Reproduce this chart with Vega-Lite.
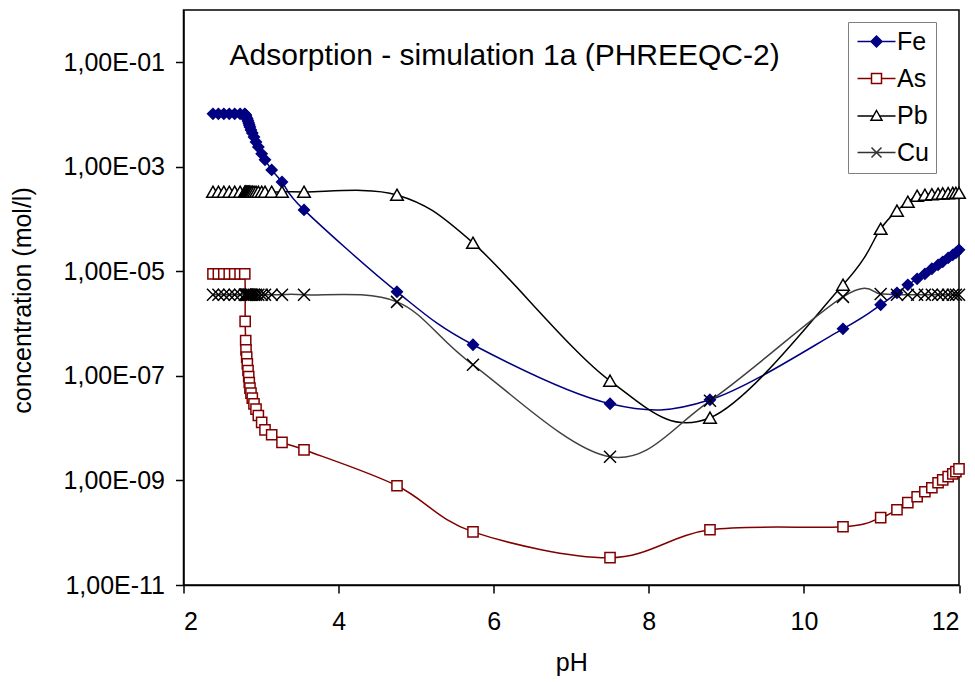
{
  "$schema": "https://vega.github.io/schema/vega-lite/v6.json",
  "width": 775.5,
  "height": 575,
  "autosize": {"type": "none"},
  "padding": {"left": 183.5, "top": 10, "right": 16, "bottom": 97},
  "background": "white",
  "config": {
    "font": "Liberation Sans",
    "view": {"stroke": "black", "strokeWidth": 1.5},
    "axis": {
      "grid": false,
      "domainColor": "black",
      "domainWidth": 1.5,
      "tickColor": "black",
      "tickWidth": 1.5,
      "tickSize": 8,
      "labelFont": "Liberation Sans",
      "labelFontSize": 25,
      "labelColor": "black",
      "titleFont": "Liberation Sans",
      "titleFontSize": 25,
      "titleFontWeight": "normal",
      "titleColor": "black"
    }
  },
  "title": {
    "text": "Adsorption - simulation 1a (PHREEQC-2)",
    "anchor": "start",
    "frame": "group",
    "offset": 0,
    "dx": 46,
    "dy": 85,
    "baseline": "alphabetic",
    "fontSize": 30,
    "fontWeight": "normal",
    "font": "Liberation Sans",
    "color": "black"
  },
  "data": {
    "values": [
      {"pH": 2.38, "Fe": 0.0103, "As": 8.95e-6, "Pb": 3.31e-4, "Cu": 3.56e-6},
      {"pH": 2.45, "Fe": 0.0103, "As": 8.95e-6, "Pb": 3.31e-4, "Cu": 3.56e-6},
      {"pH": 2.52, "Fe": 0.0103, "As": 8.95e-6, "Pb": 3.31e-4, "Cu": 3.56e-6},
      {"pH": 2.59, "Fe": 0.0103, "As": 8.95e-6, "Pb": 3.31e-4, "Cu": 3.56e-6},
      {"pH": 2.66, "Fe": 0.0103, "As": 8.95e-6, "Pb": 3.31e-4, "Cu": 3.56e-6},
      {"pH": 2.73, "Fe": 0.0103, "As": 8.95e-6, "Pb": 3.31e-4, "Cu": 3.56e-6},
      {"pH": 2.79, "Fe": 0.0103, "As": 8.95e-6, "Pb": 3.31e-4, "Cu": 3.56e-6},
      {"pH": 2.795, "Fe": 0.0100, "As": 1.10e-6, "Pb": 3.31e-4, "Cu": 3.56e-6},
      {"pH": 2.802, "Fe": 0.00982, "As": 4.75e-7, "Pb": 3.31e-4, "Cu": 3.56e-6},
      {"pH": 2.806, "Fe": 0.0094, "As": 3.16e-7, "Pb": 3.31e-4, "Cu": 3.56e-6},
      {"pH": 2.815, "Fe": 0.00861, "As": 2.29e-7, "Pb": 3.31e-4, "Cu": 3.56e-6},
      {"pH": 2.823, "Fe": 0.00824, "As": 1.70e-7, "Pb": 3.31e-4, "Cu": 3.56e-6},
      {"pH": 2.832, "Fe": 0.00755, "As": 1.27e-7, "Pb": 3.31e-4, "Cu": 3.56e-6},
      {"pH": 2.841, "Fe": 0.0069, "As": 9.73e-8, "Pb": 3.31e-4, "Cu": 3.56e-6},
      {"pH": 2.848, "Fe": 0.00632, "As": 7.48e-8, "Pb": 3.31e-4, "Cu": 3.56e-6},
      {"pH": 2.857, "Fe": 0.00579, "As": 5.85e-8, "Pb": 3.31e-4, "Cu": 3.56e-6},
      {"pH": 2.870, "Fe": 0.00508, "As": 4.69e-8, "Pb": 3.31e-4, "Cu": 3.56e-6},
      {"pH": 2.887, "Fe": 0.00445, "As": 3.77e-8, "Pb": 3.31e-4, "Cu": 3.56e-6},
      {"pH": 2.909, "Fe": 0.00373, "As": 2.93e-8, "Pb": 3.31e-4, "Cu": 3.56e-6},
      {"pH": 2.935, "Fe": 0.00299, "As": 2.32e-8, "Pb": 3.31e-4, "Cu": 3.56e-6},
      {"pH": 2.965, "Fe": 0.0024, "As": 1.75e-8, "Pb": 3.31e-4, "Cu": 3.56e-6},
      {"pH": 3.008, "Fe": 0.00177, "As": 1.29e-8, "Pb": 3.31e-4, "Cu": 3.56e-6},
      {"pH": 3.051, "Fe": 0.00136, "As": 9.31e-9, "Pb": 3.31e-4, "Cu": 3.56e-6},
      {"pH": 3.137, "Fe": 0.000873, "As": 7.48e-9, "Pb": 3.31e-4, "Cu": 3.56e-6},
      {"pH": 3.270, "Fe": 0.000514, "As": 5.33e-9, "Pb": 3.31e-4, "Cu": 3.56e-6},
      {"pH": 3.554, "Fe": 0.00015, "As": 3.86e-9, "Pb": 3.31e-4, "Cu": 3.56e-6},
      {"pH": 4.753, "Fe": 4.06e-6, "As": 7.92e-10, "Pb": 2.90e-4, "Cu": 2.61e-6},
      {"pH": 5.733, "Fe": 3.94e-7, "As": 1.04e-10, "Pb": 3.51e-5, "Cu": 1.63e-7},
      {"pH": 7.500, "Fe": 2.93e-8, "As": 3.33e-11, "Pb": 8.05e-8, "Cu": 2.84e-9},
      {"pH": 8.789, "Fe": 3.49e-8, "As": 1.14e-10, "Pb": 1.58e-8, "Cu": 3.34e-8},
      {"pH": 10.504, "Fe": 7.94e-7, "As": 1.30e-10, "Pb": 5.52e-6, "Cu": 3.25e-6},
      {"pH": 10.99, "Fe": 2.29e-6, "As": 1.94e-10, "Pb": 6.5e-5, "Cu": 3.7e-6},
      {"pH": 11.20, "Fe": 3.88e-6, "As": 2.75e-10, "Pb": 1.44e-4, "Cu": 3.56e-6},
      {"pH": 11.34, "Fe": 5.52e-6, "As": 3.75e-10, "Pb": 2.13e-4, "Cu": 3.56e-6},
      {"pH": 11.46, "Fe": 7.19e-6, "As": 4.88e-10, "Pb": 2.78e-4, "Cu": 3.56e-6},
      {"pH": 11.56, "Fe": 8.95e-6, "As": 6.08e-10, "Pb": 2.90e-4, "Cu": 3.56e-6},
      {"pH": 11.65, "Fe": 1.12e-5, "As": 7.25e-10, "Pb": 2.97e-4, "Cu": 3.56e-6},
      {"pH": 11.73, "Fe": 1.33e-5, "As": 9.03e-10, "Pb": 3.03e-4, "Cu": 3.56e-6},
      {"pH": 11.79, "Fe": 1.52e-5, "As": 1.03e-9, "Pb": 3.08e-4, "Cu": 3.56e-6},
      {"pH": 11.86, "Fe": 1.81e-5, "As": 1.18e-9, "Pb": 3.12e-4, "Cu": 3.56e-6},
      {"pH": 11.92, "Fe": 2.07e-5, "As": 1.34e-9, "Pb": 3.15e-4, "Cu": 3.56e-6},
      {"pH": 11.96, "Fe": 2.26e-5, "As": 1.47e-9, "Pb": 3.16e-4, "Cu": 3.56e-6},
      {"pH": 12.00, "Fe": 2.58e-5, "As": 1.67e-9, "Pb": 3.16e-4, "Cu": 3.56e-6}
    ]
  },
  "transform": [{"fold": ["Fe", "As", "Pb", "Cu"], "as": ["series", "conc"]}],
  "encoding": {
    "x": {
      "field": "pH",
      "type": "quantitative",
      "scale": {"domain": [2, 12], "nice": false, "zero": false},
      "axis": {
        "values": [2, 4, 6, 8, 10, 12],
        "title": "pH",
        "labelPadding": 16,
        "titleX": 387.75,
        "titleY": 77,
        "titleBaseline": "middle"
      }
    },
    "y": {
      "field": "conc",
      "type": "quantitative",
      "scale": {"type": "log", "domain": [1e-11, 1], "nice": false},
      "axis": {
        "values": [1e-11, 1e-9, 1e-7, 1e-5, 1e-3, 1e-1],
        "labelExpr": "'1,00E-' + (round(-log(datum.value)/LN10) < 10 ? '0' : '') + round(-log(datum.value)/LN10)",
        "labelPadding": 11,
        "title": "concentration (mol/l)",
        "titleAngle": -90,
        "titleX": -153,
        "titleY": 290,
        "titleAlign": "center",
        "titleBaseline": "alphabetic"
      }
    }
  },
  "layer": [
    {
      "mark": {"type": "line", "interpolate": "cardinal", "strokeWidth": 1.5},
      "encoding": {
        "color": {
          "field": "series",
          "type": "nominal",
          "scale": {"domain": ["Fe", "As", "Pb", "Cu"], "range": ["#000080", "#800000", "#000000", "#404040"]},
          "legend": null
        }
      }
    },
    {
      "mark": {"type": "point", "filled": true, "size": 144, "strokeWidth": 1.5, "opacity": 1},
      "encoding": {
        "shape": {
          "field": "series",
          "type": "nominal",
          "scale": {
            "domain": ["Fe", "As", "Pb", "Cu"],
            "range": [
              "M0,-0.9L0.9,0L0,0.9L-0.9,0Z",
              "M-0.85,-0.85H0.85V0.85H-0.85Z",
              "M0,-0.95L1.05,0.9L-1.05,0.9Z",
              "M-1,-1L1,1M-1,1L1,-1"
            ]
          },
          "legend": null
        },
        "fill": {
          "field": "series",
          "type": "nominal",
          "scale": {"domain": ["Fe", "As", "Pb", "Cu"], "range": ["#000080", "#ffffff", "#ffffff", "transparent"]},
          "legend": null
        },
        "stroke": {
          "field": "series",
          "type": "nominal",
          "scale": {"domain": ["Fe", "As", "Pb", "Cu"], "range": ["#000080", "#800000", "#000000", "#000000"]},
          "legend": null
        }
      }
    },
    {
      "transform": [{"filter": "false"}],
      "mark": {"type": "point", "filled": true, "size": 100, "strokeWidth": 1.5, "opacity": 1},
      "encoding": {
        "shape": {
          "field": "series",
          "type": "nominal",
          "scale": {
            "domain": ["Fe", "As", "Pb", "Cu"],
            "range": [
              "M-3.8,0H3.8M0,-1.1L1.1,0L0,1.1L-1.1,0Z",
              "M-3.8,0H-1M1,0H3.8M-1,-1H1V1H-1Z",
              "M-3.8,0.1H-0.5M0.5,0.1H3.8M0,-1L1.1,0.95L-1.1,0.95Z",
              "M-3.8,0H3.8M-1,-1L1,1M-1,1L1,-1"
            ]
          },
          "legend": {
            "title": null,
            "orient": "none",
            "legendX": 664.5,
            "legendY": 12,
            "padding": 7,
            "strokeColor": "#808080",
            "fillColor": "white",
            "labelFont": "Liberation Sans",
            "labelFontSize": 25,
            "labelColor": "black",
            "symbolSize": 100,
            "symbolStrokeWidth": 1.5,
            "symbolOffset": 9,
            "labelOffset": 8,
            "rowPadding": 11
          }
        },
        "fill": {
          "field": "series",
          "type": "nominal",
          "scale": {"domain": ["Fe", "As", "Pb", "Cu"], "range": ["#000080", "#ffffff", "#ffffff", "transparent"]}
        },
        "stroke": {
          "field": "series",
          "type": "nominal",
          "scale": {"domain": ["Fe", "As", "Pb", "Cu"], "range": ["#000080", "#800000", "#000000", "#333333"]}
        }
      }
    }
  ],
  "resolve": {"scale": {"shape": "independent", "fill": "independent", "stroke": "independent"}}
}
